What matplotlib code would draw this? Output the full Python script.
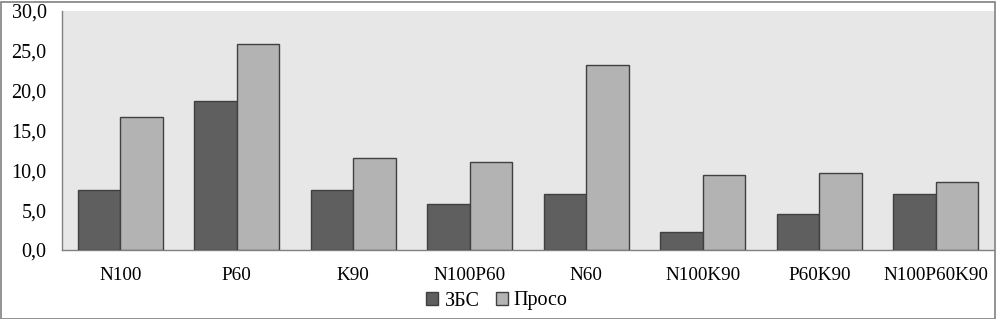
import matplotlib
matplotlib.use("Agg")
import matplotlib.pyplot as plt
import numpy as np
from matplotlib.patches import Rectangle

categories = ["N100", "P60", "K90", "N100P60", "N60", "N100K90", "P60K90", "N100P60K90"]
zbs = [7.5, 18.7, 7.5, 5.8, 7.0, 2.3, 4.5, 7.0]
proso = [16.7, 25.9, 11.5, 11.0, 23.2, 9.4, 9.7, 8.5]
series_names = ["ЗБС", "Просо"]
yticks = [0, 5, 10, 15, 20, 25, 30]

plt.rcParams['font.family'] = ['Liberation Serif', 'DejaVu Serif']

fig = plt.figure(figsize=(9.96, 3.19), dpi=100)
ax = fig.add_axes([62/996, 69/319, (994-62)/996, (250-11)/319])
ax.set_facecolor('#e7e7e7')

x = np.arange(len(categories))
w = 0.365
ax.bar(x - w/2, zbs, w, color='#5f5f5f', edgecolor='#404040', linewidth=1.0, label=series_names[0], zorder=3)
ax.bar(x + w/2, proso, w, color='#b3b3b3', edgecolor='#404040', linewidth=1.0, label=series_names[1], zorder=3)

ax.set_xlim(-0.5, len(categories) - 0.5)
ax.set_ylim(0, 30)
ax.set_yticks(yticks)
ax.set_yticklabels([f"{v:.1f}".replace('.', ',') for v in yticks], fontsize=14.5)
ax.set_xticks(x)
ax.set_xticklabels(categories, fontsize=13.8)
ax.tick_params(axis='both', length=0)
ax.tick_params(axis='x', pad=12.5)
ax.tick_params(axis='y', pad=11)
for s in ['top', 'right']:
    ax.spines[s].set_visible(False)
for s in ['left', 'bottom']:
    ax.spines[s].set_color('#808080')
    ax.spines[s].set_linewidth(1.0)

leg = fig.legend(loc='center', bbox_to_anchor=(497/996, 1 - 301/319), ncol=2, frameon=False,
                 fontsize=14.5, handlelength=0.6, handleheight=0.6, handletextpad=0.3, columnspacing=0.8)

fig.patches.append(Rectangle((0.5/996, 0.5/319), 1 - 2/996, 1 - 2/319, transform=fig.transFigure,
                             fill=False, edgecolor='#808080', linewidth=1.2))

fig.savefig("out.png", dpi=100)
